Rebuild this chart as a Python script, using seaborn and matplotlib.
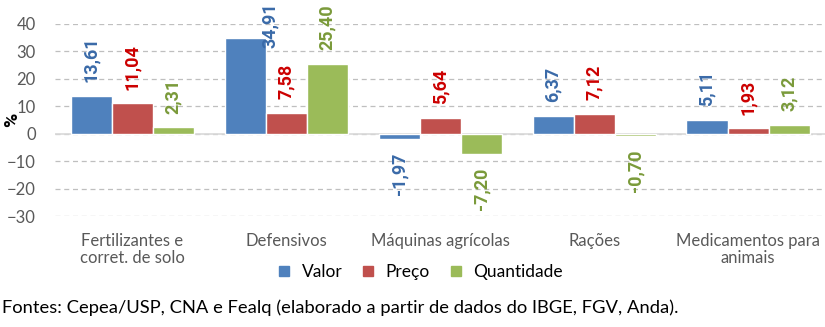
import matplotlib
matplotlib.use("Agg")
import matplotlib.pyplot as plt
import seaborn as sns
import pandas as pd
from matplotlib.lines import Line2D

categorias = ["Fertilizantes e\ncorret. de solo", "Defensivos", "Máquinas agrícolas", "Rações", "Medicamentos para\nanimais"]
series = ["Valor", "Preço", "Quantidade"]
valor = [13.61, 34.91, -1.97, 6.37, 5.11]
preco = [11.04, 7.58, 5.64, 7.12, 1.93]
quantidade = [2.31, 25.40, -7.20, -0.70, 3.12]

bar_colors = ["#4F81BD", "#C0504D", "#9BBB59"]
label_colors = ["#3A6AA8", "#CC0000", "#7A9A3A"]

sns.set_style("white")
plt.rcParams["font.family"] = ["Lato", "DejaVu Sans"]

rows = []
for s, vals in zip(series, [valor, preco, quantidade]):
    for c, v in zip(categorias, vals):
        rows.append({"categoria": c, "serie": s, "valor": v})
df = pd.DataFrame(rows)

fig = plt.figure(figsize=(8.25, 3.27), dpi=100)
ax = fig.add_axes([0.067, 0.339, 0.933, 0.588])

sns.barplot(data=df, x="categoria", y="valor", hue="serie", order=categorias,
            hue_order=series, palette=bar_colors, saturation=1, width=0.8,
            ax=ax, legend=False, zorder=3)

ax.set_ylim(-30, 40)
ax.set_xlim(-0.5, 4.5)
ax.set_yticks(range(-30, 41, 10))
ax.yaxis.grid(True, linestyle=(0, (4, 3)), color="#BFBFBF", linewidth=0.9, zorder=0)
ax.axhline(0, color="#D9D9D9", linewidth=1.2, zorder=1)
ax.set_axisbelow(True)
for sp in ax.spines.values():
    sp.set_visible(False)
ax.tick_params(axis="both", length=0, colors="#595959", labelsize=12)
ax.tick_params(axis="y", pad=14)
ax.tick_params(axis="x", pad=12)
for t in ax.get_xticklabels():
    t.set_linespacing(1.1)
ax.set_xlabel("")
ax.set_ylabel("%", fontweight="bold", color="black", fontsize=14,
              family=["Roboto", "DejaVu Sans"])
ax.yaxis.set_label_coords(-0.044, 0.5)

# data labels
lab_kw = dict(rotation=90, ha="center", fontsize=13, fontweight="bold",
              family=["Roboto", "DejaVu Sans"])
for si, (s, vals) in enumerate(zip(series, [valor, preco, quantidade])):
    cont = ax.containers[si]
    for ci, (bar, v) in enumerate(zip(cont, vals)):
        xc = bar.get_x() + bar.get_width() / 2
        txt = f"{v:.2f}".replace(".", ",")
        if s == "Valor" and ci == 1:
            ax.text(xc + 0.16, 39.5, txt, va="center", color=label_colors[si], **lab_kw)
            continue
        if v >= 0:
            ax.annotate(txt, (xc, v), xytext=(0, 10), textcoords="offset points",
                        va="bottom", color=label_colors[si], **lab_kw)
        else:
            ax.annotate(txt, (xc, v), xytext=(0, -10), textcoords="offset points",
                        va="top", color=label_colors[si], **lab_kw)

handles = [Line2D([], [], marker="s", linestyle="", markersize=7.5,
                  markerfacecolor=c, markeredgecolor=c) for c in bar_colors]
fig.legend(handles, series, loc="center", bbox_to_anchor=(0.503, 0.168), ncol=3,
           frameon=False, fontsize=12.5, handletextpad=0.0, columnspacing=0.5,
           labelcolor="black")

fig.text(0.003, 0.058, "Fontes: Cepea/USP, CNA e Fealq (elaborado a partir de dados do IBGE, FGV, Anda).",
         ha="left", va="center", fontsize=13.2, color="black")

fig.savefig("out.png", dpi=100)
